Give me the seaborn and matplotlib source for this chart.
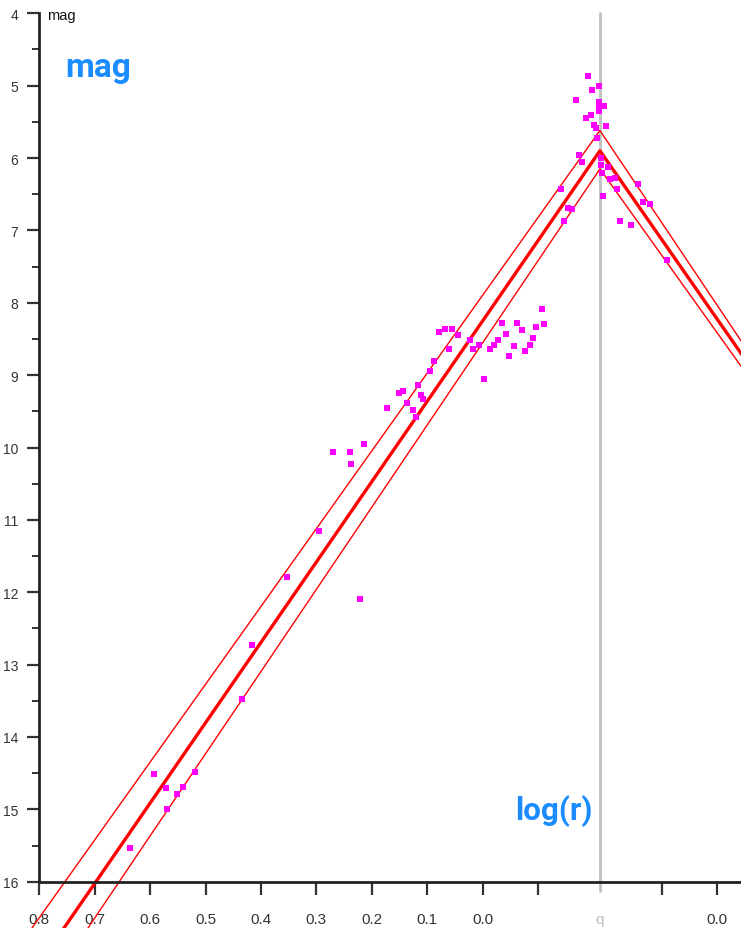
import matplotlib
matplotlib.use("Agg")
import matplotlib.pyplot as plt
from matplotlib.ticker import MultipleLocator
import numpy as np
import pandas as pd
import seaborn as sns

# ---------------- data ----------------
log_q = -0.212  # perihelion distance (log r)

# pre-perihelion observations (log r, magnitude)
pre_logr = [0.637, 0.593, 0.572, 0.570, 0.552, 0.540, 0.519, 0.434, 0.416, 0.352,
            0.295, 0.269, 0.239, 0.237, 0.213, 0.221, 0.173, 0.150, 0.143, 0.136,
            0.125, 0.120, 0.117, 0.111, 0.107, 0.095, 0.088, 0.078, 0.067, 0.055,
            0.044, 0.060, 0.023, 0.018, 0.006, -0.003, -0.014, -0.021, -0.028, -0.035,
            -0.042, -0.047, -0.056, -0.063, -0.072, -0.077, -0.086, -0.092, -0.097, -0.107,
            -0.111, -0.142, -0.148, -0.155, -0.162, -0.169, -0.174, -0.180, -0.186, -0.190,
            -0.195, -0.198, -0.201, -0.204, -0.206, -0.211, -0.211, -0.210, -0.211]
pre_mag = [15.54, 14.51, 14.71, 15.00, 14.79, 14.69, 14.48, 13.48, 12.73, 11.79,
           11.15, 10.06, 10.06, 10.23, 9.95, 12.09, 9.45, 9.24, 9.22, 9.38,
           9.48, 9.58, 9.13, 9.27, 9.33, 8.94, 8.81, 8.41, 8.36, 8.36,
           8.44, 8.64, 8.51, 8.64, 8.58, 9.05, 8.64, 8.58, 8.51, 8.28,
           8.43, 8.73, 8.60, 8.28, 8.37, 8.67, 8.59, 8.48, 8.34, 8.09,
           8.30, 6.43, 6.87, 6.69, 6.71, 5.20, 5.96, 6.06, 5.44, 4.87,
           5.40, 5.06, 5.54, 5.58, 5.72, 5.01, 5.22, 5.30, 5.35]

# post-perihelion observations (log r, magnitude)
post_logr = [-0.211, -0.211, -0.208, -0.207, -0.204, -0.201, -0.197, -0.194,
             -0.185, -0.181, -0.176, -0.156, -0.144, -0.134, -0.121, -0.091]
post_mag = [6.00, 6.10, 6.21, 6.52, 5.28, 5.56, 6.13, 6.29,
            6.27, 6.43, 6.87, 6.92, 6.36, 6.61, 6.64, 7.41]

# model light-curve vertices: (log r) pre branch end, perihelion, post branch end
model_logr_pre = [0.95, log_q]
model_logr_post = [log_q, 0.10]
fit_mag = [18.80, 5.90, 9.33]
upper_mag = [18.11, 5.62, 9.18]
lower_mag = [19.34, 6.15, 9.49]

# x tick labels
xtick_logr_pre = [0.8, 0.7, 0.6, 0.5, 0.4, 0.3, 0.2, 0.1, 0.0, -0.1]
xtick_labels_pre = ["0.8", "0.7", "0.6", "0.5", "0.4", "0.3", "0.2", "0.1", "0.0", ""]
xtick_logr_post = [-0.1, 0.0]
xtick_labels_post = ["", "0.0"]

# ---------------- figure ----------------
sns.set_style("white")
plt.rcParams["font.family"] = ["Liberation Sans", "DejaVu Sans"]

W, H = 741, 929
fig = plt.figure(figsize=(W / 100, H / 100), dpi=100)
ax_l, ax_r, ax_t, ax_b = 39.3, 741, 14.3, 882.7
ax = fig.add_axes([ax_l / W, 1 - ax_b / H, (ax_r - ax_l) / W, (ax_b - ax_t) / H])

def pos_post(lr):
    return [2 * log_q - v for v in lr]

# observations
df = pd.DataFrame({
    "pos": list(pre_logr) + pos_post(post_logr),
    "mag": list(pre_mag) + list(post_mag),
})

# model lines
model_x = list(model_logr_pre) + pos_post(model_logr_post[1:])
for mags, lw in [(upper_mag, 1.0), (lower_mag, 1.0), (fit_mag, 2.4)]:
    ldf = pd.DataFrame({"pos": model_x, "mag": mags})
    sns.lineplot(data=ldf, x="pos", y="mag", sort=False, estimator=None,
                 color="#ff0000", lw=lw, ax=ax, clip_on=False, zorder=3)

# perihelion line
ax.axvline(log_q, ymin=-0.011, ymax=1, color="#c0c0c0", lw=2, clip_on=False, zorder=2)

sns.scatterplot(data=df, x="pos", y="mag", marker="s", s=16, color="#ff00ff",
                linewidth=0, ax=ax, zorder=4)

ax.set_xlim(0.8, -0.4666)
ax.set_ylim(16, 4)

# ticks
xt = list(xtick_logr_pre) + [log_q] + pos_post(xtick_logr_post)
xl = list(xtick_labels_pre) + ["q"] + list(xtick_labels_post)
ax.set_xticks(xt)
ax.set_xticklabels(xl)
ax.yaxis.set_major_locator(MultipleLocator(1))
ax.yaxis.set_minor_locator(MultipleLocator(0.5))
ax.tick_params(axis="x", which="major", length=9, width=1.6, color="#333333",
               labelsize=11, labelcolor="#333333", pad=13, direction="out", bottom=True)
ax.tick_params(axis="y", which="major", length=9, width=1.6, color="#333333",
               labelsize=10, labelcolor="#333333", pad=6, direction="out", left=True)
ax.tick_params(axis="y", which="minor", length=5, width=1.4, color="#333333",
               direction="out", left=True)
for lab in ax.get_xticklabels():
    if lab.get_text() == "q":
        lab.set_color("#c0c0c0")
for i, tl in enumerate(ax.xaxis.get_major_ticks()):
    if xl[i] == "q":
        tl.tick1line.set_visible(False)

for s in ["top", "right"]:
    ax.spines[s].set_visible(False)
for s in ["left", "bottom"]:
    ax.spines[s].set_linewidth(2)
    ax.spines[s].set_color("#222222")
    ax.spines[s].set_zorder(5)

ax.set_xlabel("")
ax.set_ylabel("")

# texts
fig.text(47 / W, 1 - 16 / H, "mag", ha="left", va="center", fontsize=10.5, color="#111111")
fig.text(65 / W, 1 - 77 / H, "mag", ha="left", va="baseline", fontsize=24,
         fontweight="bold", color="#1a8cff", family=["Roboto", "DejaVu Sans"])
fig.text(593 / W, 1 - 820 / H, "log(r)", ha="right", va="baseline", fontsize=22.5,
         fontweight="bold", color="#1a8cff", family=["Roboto", "DejaVu Sans"])

fig.savefig("out.png", dpi=100)
